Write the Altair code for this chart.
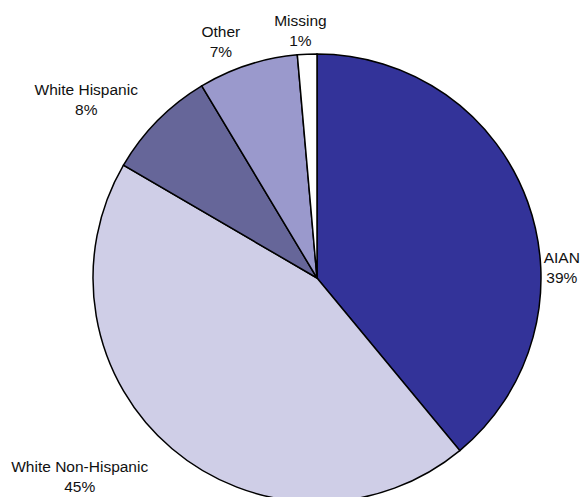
import altair as alt
import pandas as pd

categories = ["AIAN", "White Non-Hispanic", "White Hispanic", "Other", "Missing"]
values = [39.0, 44.4, 8.0, 7.2, 1.4]
pct_labels = ["39%", "45%", "8%", "7%", "1%"]
colors = ["#333399", "#CFCEE7", "#666699", "#9A99CC", "#FFFFFF"]

df = pd.DataFrame({
    "idx": list(range(len(categories))),
    "category": categories,
    "value": values,
    "label": [f"{c}\n{p}" for c, p in zip(categories, pct_labels)],
})

CX, CY = 317, 278
R = 224

base = (
    alt.Chart(df)
    .transform_window(cum="sum(value)", frame=[None, 0], sort=[alt.SortField("idx")])
    .transform_joinaggregate(total="sum(value)")
    .transform_calculate(
        start="2*PI*(datum.cum-datum.value)/datum.total",
        end="2*PI*datum.cum/datum.total",
    )
    .transform_calculate(mid="(datum.start+datum.end)/2")
)

pie = base.mark_arc(outerRadius=R, stroke="black", strokeWidth=1.5).encode(
    theta=alt.Theta("start:Q", scale=None),
    theta2="end:Q",
    fill=alt.Fill("category:N", scale=alt.Scale(domain=categories, range=colors), legend=None),
    x=alt.value(CX),
    y=alt.value(CY),
)

# label nudges (first line is placed at the anchor)
offsets = {
    "AIAN": (19, 61),
    "White Non-Hispanic": (-82, 6),
    "White Hispanic": (-60, -19),
    "Other": (-22, -18),
    "Missing": (-6, -17),
}

layers = [pie]
for c in categories:
    dx, dy = offsets[c]
    layers.append(
        base.transform_filter(alt.datum.category == c)
        .mark_text(
            radius=240, dx=dx, dy=dy, fontSize=15.5, font="Liberation Sans",
            lineBreak="\n", lineHeight=20, color="#111111", align="center", baseline="middle",
        )
        .encode(
            theta=alt.Theta("mid:Q", scale=None),
            text="label:N",
            x=alt.value(CX),
            y=alt.value(CY),
        )
    )

chart = (
    alt.layer(*layers)
    .properties(width=582, height=497, padding=0, autosize=alt.AutoSizeParams(type="none"), background="white")
    .configure_view(stroke=None)
)

chart.save("out.html", embed_options={"renderer": "svg", "actions": False})
